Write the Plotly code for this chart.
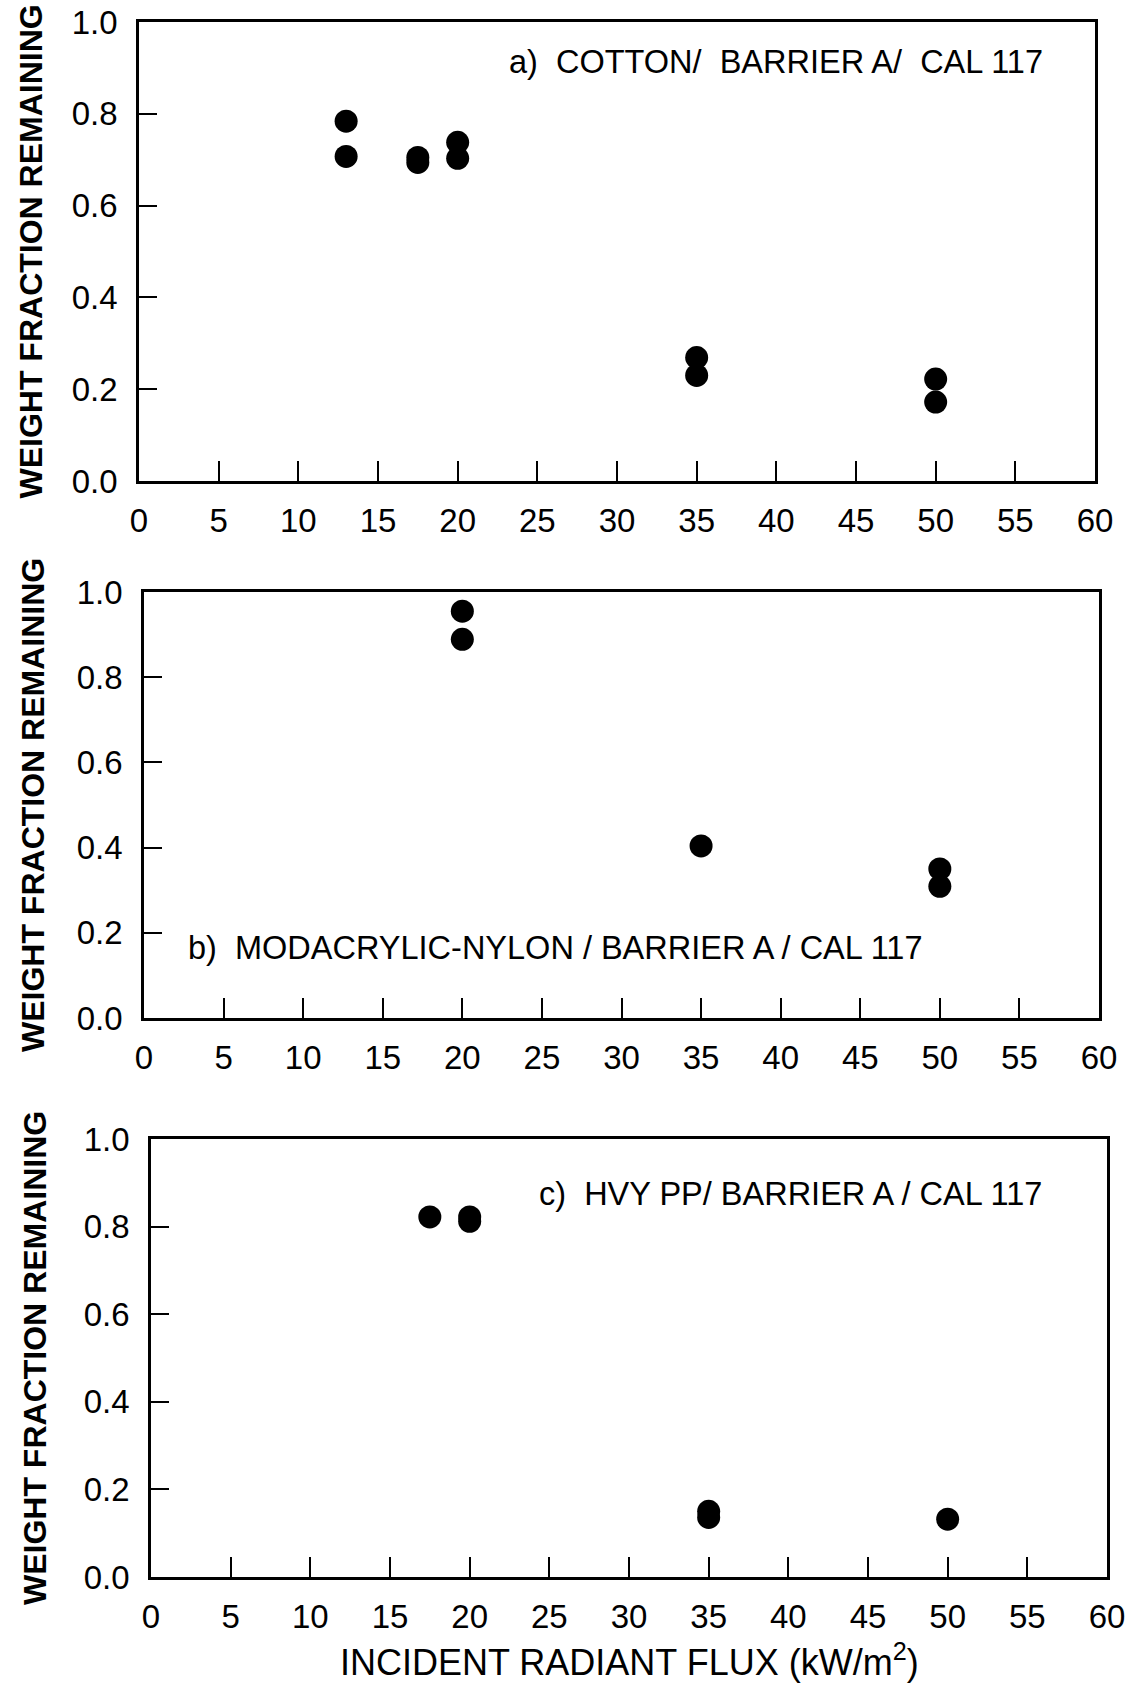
import plotly.graph_objects as go

# Incident radiant flux (kW/m2) and weight fraction remaining for each mock-up
flux_a = [13, 13, 17.5, 17.5, 20, 20, 35, 35, 50, 50]
frac_a = [0.784, 0.707, 0.705, 0.694, 0.738, 0.703, 0.269, 0.230, 0.222, 0.172]

flux_b = [20, 20, 35, 50, 50]
frac_b = [0.955, 0.889, 0.404, 0.350, 0.309]

flux_c = [17.5, 20, 20, 35, 35, 50]
frac_c = [0.822, 0.822, 0.812, 0.150, 0.136, 0.132]

labels = [
    "a)\u00a0\u00a0COTTON/\u00a0\u00a0BARRIER A/\u00a0\u00a0CAL 117",
    "b)\u00a0\u00a0MODACRYLIC-NYLON / BARRIER A / CAL 117",
    "c)\u00a0\u00a0HVY PP/ BARRIER A / CAL 117",
]
x_ticks = list(range(0, 61, 5))
y_ticks = [0.0, 0.2, 0.4, 0.6, 0.8, 1.0]

W, H = 1135, 1686
FONT = "Liberation Sans, Arial, sans-serif"

# panel frames in pixels: left, right, top, bottom
frames = [
    (139, 1095, 22, 481),
    (144, 1099, 592, 1018),
    (151, 1107, 1139, 1577),
]
label_pos = [(507, 62), (186, 948), (537, 1194)]
ytitle_x = [30, 33, 35]

series = [(flux_a, frac_a), (flux_b, frac_b), (flux_c, frac_c)]

fig = go.Figure()
annotations = []
for i, ((xs, ys), (l, r, t, b)) in enumerate(zip(series, frames)):
    n = "" if i == 0 else str(i + 1)
    fig.add_trace(go.Scatter(
        x=xs, y=ys, mode="markers",
        marker=dict(symbol="circle", size=23, color="black", line=dict(width=0)),
        xaxis="x" + n, yaxis="y" + n, showlegend=False, hoverinfo="x+y",
    ))
    axis_common = dict(
        showline=True, linecolor="black", linewidth=2.5, mirror=True,
        ticks="inside", tickcolor="black", tickwidth=2,
        showgrid=False, zeroline=False, automargin=False,
        tickfont=dict(family=FONT, size=33, color="black"),
    )
    fig.update_layout(**{
        "xaxis" + n: dict(
            axis_common, domain=[l / W, r / W], range=[0, 60],
            tickvals=x_ticks, ticklen=20, ticklabelstandoff=9,
            anchor="y" + n,
        ),
        "yaxis" + n: dict(
            axis_common, domain=[1 - b / H, 1 - t / H], range=[0, 1],
            tickvals=y_ticks, tickformat=".1f", ticklen=18,
            ticklabelstandoff=12, anchor="x" + n,
        ),
    })
    lx, ly = label_pos[i]
    annotations.append(dict(
        text=labels[i], x=lx / W, y=1 - ly / H, xref="paper", yref="paper",
        xanchor="left", yanchor="middle", showarrow=False,
        font=dict(family=FONT, size=32.5, color="black"),
    ))
    annotations.append(dict(
        text="<b>WEIGHT FRACTION REMAINING</b>", textangle=-90,
        x=ytitle_x[i] / W, y=1 - (t + b) / 2 / H, xref="paper", yref="paper",
        xanchor="center", yanchor="middle", showarrow=False,
        font=dict(family=FONT, size=32, color="black"),
    ))

annotations.append(dict(
    text="INCIDENT RADIANT FLUX (kW/m<sup>2</sup>)",
    x=629 / W, y=1 - 1660 / H, xref="paper", yref="paper",
    xanchor="center", yanchor="middle", showarrow=False,
    font=dict(family=FONT, size=36, color="black"),
))

fig.update_layout(
    width=W, height=H,
    margin=dict(l=0, r=0, t=0, b=0),
    paper_bgcolor="white", plot_bgcolor="white",
    annotations=annotations,
)

fig.write_html("out.html")
